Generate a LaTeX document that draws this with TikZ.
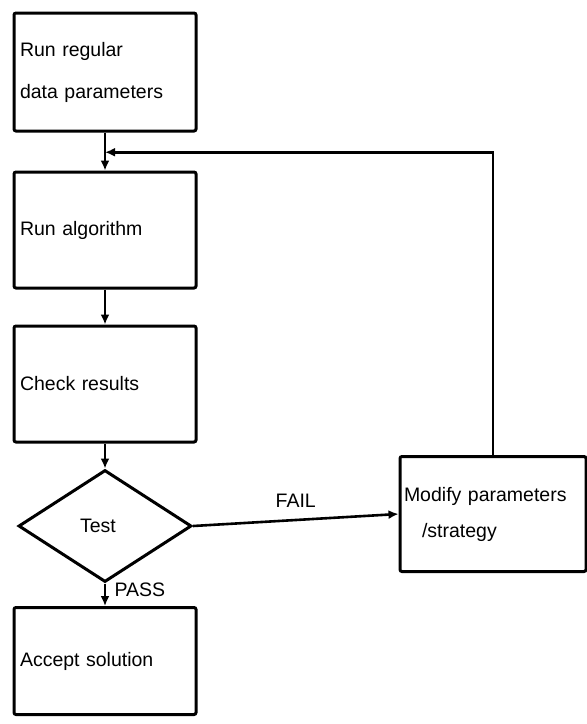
\documentclass[tikz,border=0pt]{standalone}
\usepackage{fontspec}
\setmainfont{Liberation Sans}
\usetikzlibrary{shapes.geometric,arrows.meta,calc}
\begin{document}
\begin{tikzpicture}[x=1pt,y=-1pt,
  every node/.style={font=\fontsize{19.5}{42}\selectfont},
  box/.style={draw,line width=3pt,rounded corners=2pt,minimum width=182pt,inner xsep=6pt,align=left,text width=170pt},
  dec/.style={draw,diamond,line width=3pt,minimum width=173pt,minimum height=112pt,inner sep=0pt},
  conn/.style={line width=2.6pt},
  arr/.style={conn,-{Latex[length=10pt,width=9pt]}}]
\useasboundingbox (0,0) rectangle (587,724);
\node[box,minimum height=118pt] (b1) at (105,72) {Run regular\\data parameters};
\node[box,minimum height=116pt] (b2) at (105,230) {Run algorithm\\[6pt]};
\node[box,minimum height=116pt] (b3) at (105,384) {Check results};
\node[dec] (d) at (105,526) {Test\hspace*{14pt}};
\node[box,minimum height=107pt] (b4) at (105,661) {Accept solution};
\node[box,minimum width=186pt,text width=178pt,minimum height=115pt,inner xsep=3pt,font=\fontsize{19.5}{36}\selectfont] (b5) at (493,514) {Modify parameters\\\hspace*{18pt}/strategy};
\coordinate (j) at ($(b1.south)!0.52!(b2.north)$);
\draw[arr] (b1.south) -- (b2.north);
\draw[arr] (b5.north) |- (j);
\draw[arr] (b2.south) -- (b3.north);
\draw[arr] (b3.south) -- (d.north);
\draw[arr] (d.south) -- (d.south |- b4.north) node[pos=0.3,right=5pt] {PASS};
\draw[arr] (d.east) -- (b5.west) node[midway,above=8pt] {FAIL};
\end{tikzpicture}
\end{document}
